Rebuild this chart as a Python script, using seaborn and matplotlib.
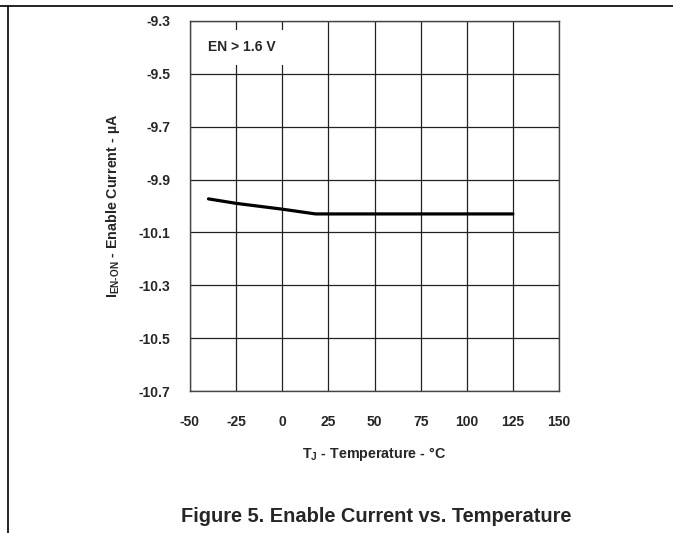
import matplotlib
matplotlib.use("Agg")
import matplotlib.pyplot as plt
from matplotlib.lines import Line2D
import seaborn as sns
import pandas as pd

temperature = [-40, -25, 0, 18, 25, 50, 75, 100, 125]
enable_current = [-9.973, -9.99, -10.012, -10.03, -10.03, -10.03, -10.03, -10.03, -10.03]
x_ticks = [-50, -25, 0, 25, 50, 75, 100, 125, 150]
y_ticks = [-10.7, -10.5, -10.3, -10.1, -9.9, -9.7, -9.5, -9.3]

sns.set_style("white")
plt.rcParams['font.family'] = ['Liberation Sans', 'DejaVu Sans']
plt.rcParams['font.weight'] = 'bold'
plt.rcParams['mathtext.fontset'] = 'custom'
plt.rcParams['mathtext.rm'] = 'Liberation Sans:bold'
plt.rcParams['mathtext.bf'] = 'Liberation Sans:bold'
plt.rcParams['mathtext.it'] = 'Liberation Sans:bold'
plt.rcParams['mathtext.default'] = 'bf'

W, H = 673, 533
fig = plt.figure(figsize=(W / 100, H / 100), dpi=100)
ax = fig.add_axes([190 / W, 1 - 391 / H, (559 - 190) / W, (391 - 21) / H])

df = pd.DataFrame({"T": temperature, "I": enable_current})
sns.lineplot(data=df, x="T", y="I", ax=ax, color="black", linewidth=2.3, zorder=4)

ax.set_xlim(-50, 150)
ax.set_ylim(-10.7, -9.3)
ax.set_xticks(x_ticks)
ax.set_yticks(y_ticks)
ax.set_xticklabels([str(v) for v in x_ticks], fontsize=10, fontweight='bold')
ax.set_yticklabels([f"{v:.1f}" for v in y_ticks], fontsize=10, fontweight='bold')
ax.tick_params(axis='both', length=0)
ax.tick_params(axis='x', pad=17)
ax.tick_params(axis='y', pad=14)
ax.grid(True, color="#222222", linewidth=0.9)
for s in ax.spines.values():
    s.set_color("#444444")
    s.set_linewidth(1.0)

ax.set_xlabel(r"T$_{J}$ - Temperature - °C", fontsize=10.3, fontweight='bold', labelpad=12)
ax.set_ylabel(r"I$_{EN\text{-}ON}$ - Enable Current - µA", fontsize=10.3, fontweight='bold', labelpad=12)

ax.text(-40.2, -9.4, "EN > 1.6 V", fontsize=10, fontweight='bold', ha='left', va='center',
        zorder=5, bbox=dict(facecolor='white', edgecolor='none', pad=7.5))

fig.text(376 / W, 1 - 517 / H, "Figure 5. Enable Current vs. Temperature",
         fontsize=14.4, fontweight='bold', ha='center', va='center')

fig.add_artist(Line2D([0, 1], [1 - 6 / H, 1 - 6 / H], color='black', linewidth=1.2, transform=fig.transFigure))
fig.add_artist(Line2D([8 / W, 8 / W], [0, 1 - 6 / H], color='black', linewidth=1.2, transform=fig.transFigure))

fig.savefig("out.png", dpi=100)
